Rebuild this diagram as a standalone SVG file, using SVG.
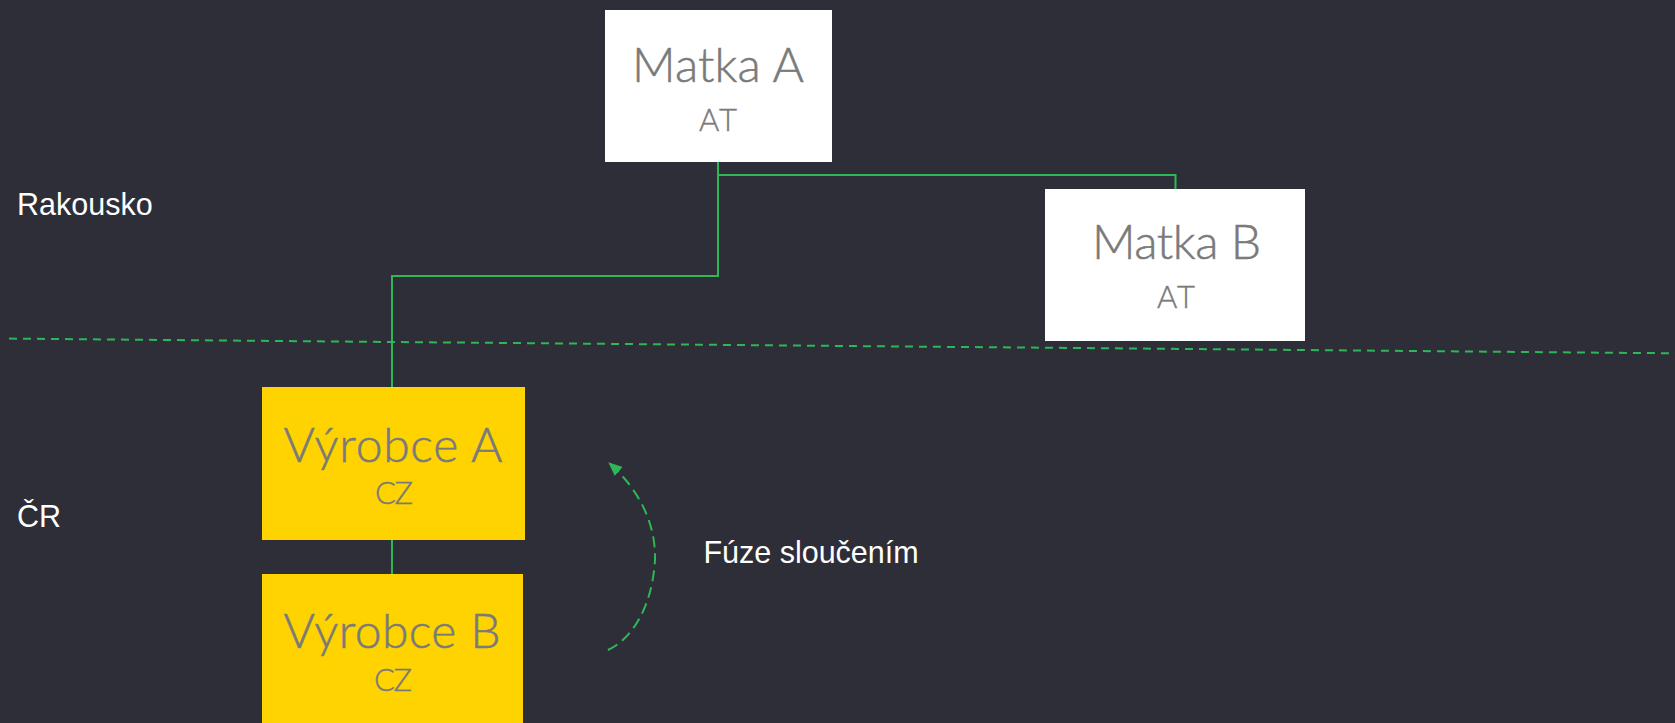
<svg xmlns="http://www.w3.org/2000/svg" width="1675" height="723" viewBox="0 0 1675 723">
<style>
.bg{fill:#2E2E38}
.white{fill:#FFFFFF}
.yellow{fill:#FFD300}
.name{font-family:Lato,"Liberation Sans",sans-serif;font-weight:300;font-size:48px;fill:#7A7A7A;text-anchor:middle;stroke:#7A7A7A;stroke-width:0.5}
.country{font-family:Lato,"Liberation Sans",sans-serif;font-weight:300;font-size:31px;fill:#7A7A7A;text-anchor:middle;stroke:#7A7A7A;stroke-width:0.4}
.label{font-family:"Liberation Sans",Arial,sans-serif;font-size:30.5px;fill:#FFFFFF}
.conn{fill:none;stroke:#2DB757;stroke-width:2}
.dash{fill:none;stroke:#2DB757;stroke-width:2;stroke-dasharray:8 6}
.arc{fill:none;stroke:#2DB757;stroke-width:2;stroke-dasharray:11 6}
</style>
<defs>
<marker id="arrow" markerUnits="userSpaceOnUse" viewBox="0 0 14 12" refX="13" refY="6" markerWidth="14" markerHeight="12" orient="auto">
<path d="M0,0 L14,6 L0,12 z" fill="#2DB757"/>
</marker>
</defs>
<rect class="bg" x="0" y="0" width="1675" height="723"/>
<line class="dash" x1="9" y1="338.6" x2="1675" y2="353.3"/>
<text class="label" x="17" y="215">Rakousko</text>
<text class="label" x="17" y="527">ČR</text>
<g id="connectors">
<path class="conn" d="M718 162 V276 H392 V387"/>
<path class="conn" d="M718 175 H1175.5 V189"/>
<path class="conn" d="M392 540 V574"/>
<path class="arc" d="M607.9 650 C630 640 652 610 655 560 C656 525 640 490 609 463" marker-end="url(#arrow)"/>
</g>
<g id="matka-a">
<rect class="white" x="605" y="10" width="227" height="152"/>
<text class="name" x="718" y="81.7" textLength="172">Matka A</text>
<text class="country" x="718" y="131" textLength="38">AT</text>
</g>
<g id="matka-b">
<rect class="white" x="1045" y="189" width="260" height="152"/>
<text class="name" x="1176.5" y="259.3" textLength="169">Matka B</text>
<text class="country" x="1176" y="308.3" textLength="38">AT</text>
</g>
<g id="vyrobce-a">
<rect class="yellow" x="262" y="387" width="263" height="153"/>
<text class="name" x="393" y="461.7" textLength="219">Výrobce A</text>
<text class="country" x="394" y="504.3" textLength="38">CZ</text>
</g>
<g id="vyrobce-b">
<rect class="yellow" x="262" y="574" width="261" height="160"/>
<text class="name" x="392" y="648.3" textLength="217">Výrobce B</text>
<text class="country" x="393" y="690.7" textLength="38">CZ</text>
</g>
<text class="label" x="703.4" y="562.7">Fúze sloučením</text>
</svg>
